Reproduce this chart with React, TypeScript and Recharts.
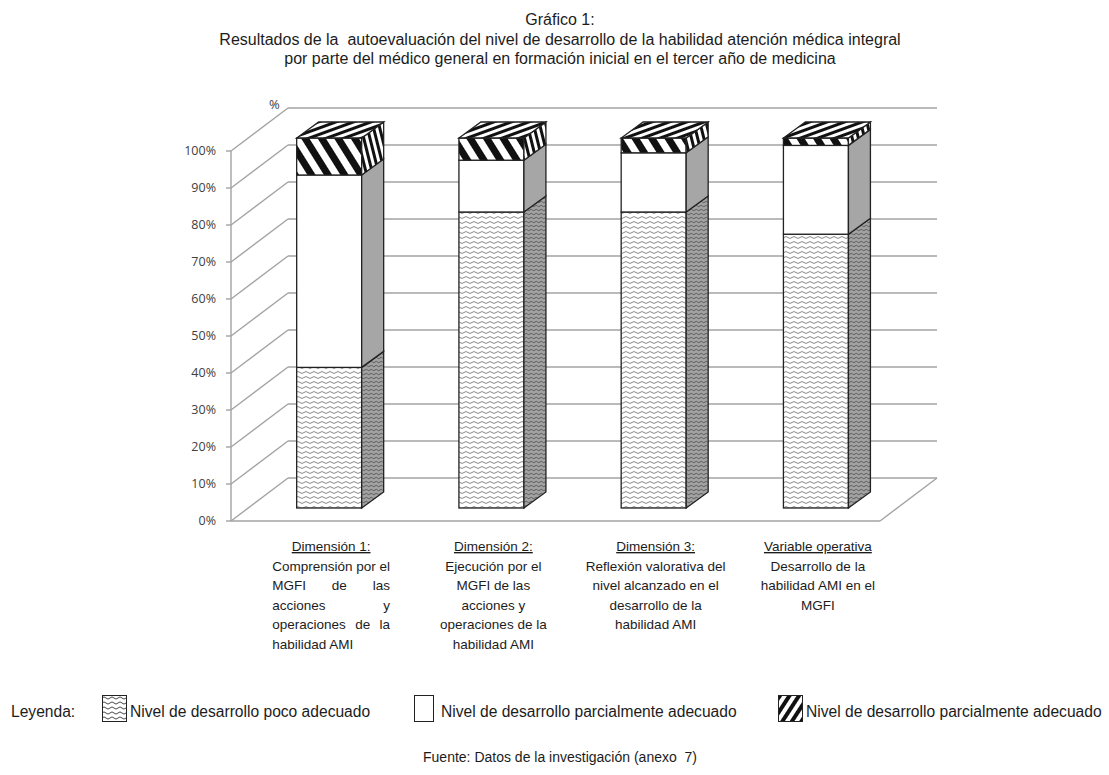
import React from 'react';
import { BarChart, Bar, XAxis, YAxis, CartesianGrid } from 'recharts';

// Categories and stacked percentages (bottom to top of each column)
const categories = ['Dimensión 1:', 'Dimensión 2:', 'Dimensión 3:', 'Variable operativa'];
const pocoAdecuado = [38, 80, 80, 74];
const parcialAdecuado = [52, 14, 16, 24];
const adecuado = [10, 6, 4, 2];
const yTicks = [0, 10, 20, 30, 40, 50, 60, 70, 80, 90, 100];

// Description lines under each category heading
const categoryLines = [
  ['Comprensión por el', 'MGFI de las', 'acciones y', 'operaciones de la', 'habilidad AMI'],
  ['Ejecución  por el', 'MGFI de las', 'acciones y', 'operaciones de la', 'habilidad AMI'],
  ['Reflexión valorativa del', 'nivel alcanzado en el', 'desarrollo de la', 'habilidad AMI'],
  ['Desarrollo de la', 'habilidad AMI en el', 'MGFI'],
];
const justifiedLabel = [true, false, false, false];

const legendLabels = [
  'Nivel de desarrollo poco adecuado',
  'Nivel de desarrollo parcialmente adecuado',
  'Nivel de desarrollo parcialmente adecuado',
];

const titleLines = [
  'Gráfico 1:',
  'Resultados de la  autoevaluación del nivel de desarrollo de la habilidad atención médica integral',
  'por parte del médico general en formación inicial en el tercer año de medicina',
];
const sourceText = 'Fuente: Datos de la investigación (anexo  7)';

const data = categories.map((name, i) => ({
  name,
  poco: pocoAdecuado[i],
  parcial: parcialAdecuado[i],
  adecuado: adecuado[i],
}));

const FONT = "'Liberation Sans', Arial, sans-serif";
const TICK_FONT = "'Open Sans', 'DejaVu Sans', sans-serif";
const GRID = '#a3a3a3';
const EDGE = '#222';
const LABEL_SIZE = 13.5;

// pseudo-3D offsets: back wall, bar front face and bar depth
const WALL = { dx: 57, dy: -43 };
const SHIFT = { dx: 17, dy: -13 };
const DEPTH = { dx: 22, dy: -16 };
const LABEL_DX = SHIFT.dx + 2;

const pts = (p: number[][]) => p.map(([a, b]) => `${a},${b}`).join(' ');

let measureCtx: CanvasRenderingContext2D | null = null;
const textWidth = (w: string) => {
  if (!measureCtx && typeof document !== 'undefined') {
    measureCtx = document.createElement('canvas').getContext('2d');
  }
  if (measureCtx) {
    measureCtx.font = `${LABEL_SIZE}px 'Liberation Sans', Arial, sans-serif`;
    return measureCtx.measureText(w).width;
  }
  return w.length * LABEL_SIZE * 0.55;
};

// word positions for a justified line of a given width
const justify = (line: string, left: number, width: number) => {
  const words = line.split(/\s+/).filter(Boolean);
  if (words.length < 2) return [{ word: line, x: left }];
  const widths = words.map(textWidth);
  const total = widths.reduce((a, b) => a + b, 0);
  const gap = (width - total) / (words.length - 1);
  let cur = left;
  return words.map((word, k) => {
    const out = { word, x: cur };
    cur += widths[k] + gap;
    return out;
  });
};

const makeBox = (front: string, side: string, top?: string) => (props: any) => {
  const { x, y, width, height } = props;
  if (!height || height <= 0) return <g />;
  const fx = x + SHIFT.dx;
  const fy = y + SHIFT.dy;
  const r = fx + width;
  const b = fy + height;
  return (
    <g>
      <rect x={fx} y={fy} width={width} height={height} fill={front} stroke={EDGE} strokeWidth={1.3} />
      <polygon
        points={pts([[r, fy], [r + DEPTH.dx, fy + DEPTH.dy], [r + DEPTH.dx, b + DEPTH.dy], [r, b]])}
        fill={side}
        stroke={EDGE}
        strokeWidth={1.3}
      />
      {top && (
        <polygon
          points={pts([[fx, fy], [r, fy], [r + DEPTH.dx, fy + DEPTH.dy], [fx + DEPTH.dx, fy + DEPTH.dy]])}
          fill={top}
          stroke={EDGE}
          strokeWidth={1.3}
        />
      )}
    </g>
  );
};

// each horizontal grid line: left-wall diagonal + back-wall line (+ floor edges at 0%)
const gridLine = (props: any) => {
  const { x1, y1, x2, y2 } = props;
  const bottom = props.y != null && props.height != null ? props.y + props.height : null;
  const isFloor = bottom != null && Math.abs(y1 - bottom) < 1;
  return (
    <g key={`g-${y1}`} stroke={GRID} strokeWidth={1.4} fill="none">
      <line x1={x1} y1={y1} x2={x1 + WALL.dx} y2={y1 + WALL.dy} />
      <line x1={x1 + WALL.dx} y1={y1 + WALL.dy} x2={x2 + WALL.dx} y2={y2 + WALL.dy} />
      {isFloor && (
        <>
          <line x1={x1} y1={y1} x2={x2} y2={y2} />
          <line x1={x2} y1={y2} x2={x2 + WALL.dx} y2={y2 + WALL.dy} />
        </>
      )}
    </g>
  );
};

const CategoryTick = (props: any) => {
  const { x, y, payload } = props;
  const i = payload.index != null ? payload.index : categories.indexOf(payload.value);
  const lines = categoryLines[i] || [];
  const cx = x + LABEL_DX;
  // justified block is as wide as its longest line
  const blockW = Math.max(...lines.map(textWidth));
  const left = cx - blockW / 2;
  const base = y + 22;
  const lh = 19.5;
  return (
    <g fontFamily={FONT} fontSize={LABEL_SIZE} fill="#1c1c1c">
      <text x={cx} y={base} textAnchor="middle" textDecoration="underline">
        {payload.value}
      </text>
      {lines.map((line, k) => {
        const ly = base + lh * (k + 1);
        if (justifiedLabel[i]) {
          if (k === lines.length - 1) {
            return (
              <text key={k} x={left} y={ly} textAnchor="start">
                {line}
              </text>
            );
          }
          return (
            <g key={k}>
              {justify(line, left, blockW).map((w, j) => (
                <text key={j} x={w.x} y={ly} textAnchor="start">
                  {w.word}
                </text>
              ))}
            </g>
          );
        }
        return (
          <text key={k} x={cx} y={ly} textAnchor="middle">
            {line}
          </text>
        );
      })}
    </g>
  );
};

const Patterns = () => (
  <svg width={0} height={0} style={{ position: 'absolute' }}>
    <defs>
      <pattern id="waveFront" width={8} height={5} patternUnits="userSpaceOnUse">
        <rect width={8} height={5} fill="#fff" />
        <path d="M0 2.5 Q2 0.6 4 2.5 T8 2.5" stroke="#8a8a8a" strokeWidth={1} fill="none" />
      </pattern>
      <pattern id="waveSide" width={5} height={4} patternUnits="userSpaceOnUse">
        <rect width={5} height={4} fill="#a2a2a2" />
        <path d="M0 2 Q1.25 0.6 2.5 2 T5 2" stroke="#555" strokeWidth={0.9} fill="none" />
      </pattern>
      <pattern id="waveIcon" width={8} height={5} patternUnits="userSpaceOnUse">
        <rect width={8} height={5} fill="#fff" />
        <path d="M0 3 Q2 0.8 4 3 T8 3" stroke="#333" strokeWidth={0.9} fill="none" />
      </pattern>
      <pattern id="hatchFront" width={14} height={14} patternUnits="userSpaceOnUse" patternTransform="rotate(-32)">
        <rect width={14} height={14} fill="#fff" />
        <rect width={7} height={14} fill="#111" />
      </pattern>
      <pattern id="hatchSide" width={6} height={6} patternUnits="userSpaceOnUse" patternTransform="rotate(-14)">
        <rect width={6} height={6} fill="#fff" />
        <rect width={3} height={6} fill="#111" />
      </pattern>
      <pattern id="hatchTop" width={6} height={6} patternUnits="userSpaceOnUse" patternTransform="rotate(70)">
        <rect width={6} height={6} fill="#fff" />
        <rect width={3} height={6} fill="#111" />
      </pattern>
      <pattern id="hatchIcon" width={8} height={8} patternUnits="userSpaceOnUse" patternTransform="rotate(33)">
        <rect width={8} height={8} fill="#fff" />
        <rect width={4} height={8} fill="#111" />
      </pattern>
    </defs>
  </svg>
);

const text = (extra: React.CSSProperties): React.CSSProperties => ({
  position: 'absolute',
  fontFamily: FONT,
  fontSize: 16,
  color: '#1c1c1c',
  whiteSpace: 'pre',
  lineHeight: '19.5px',
  ...extra,
});

const legendIcons = ['url(#waveIcon)', '#fff', 'url(#hatchIcon)'];
const legendIconX = [102, 414, 778];
const legendIconW = [25, 20, 25];
const legendTextX = [130, 441, 806];

export default function App() {
  return (
    <div style={{ position: 'absolute', left: 0, top: 0, width: 1109, height: 775, background: '#fff', overflow: 'hidden' }}>
      <Patterns />
      <div style={text({ left: 0, top: 10, width: 1120, textAlign: 'center' })}>
        {titleLines.map((t) => (
          <div key={t}>{t}</div>
        ))}
      </div>
      <div style={text({ left: 269, top: 95, fontFamily: TICK_FONT, fontSize: 13, color: '#404040' })}>%</div>

      <BarChart
        width={1109}
        height={775}
        data={data}
        margin={{ top: 151, right: 229, left: 171, bottom: 124 }}
        barCategoryGap="30%"
        style={{ position: 'absolute', left: 0, top: 0 }}
      >
        <CartesianGrid vertical={false} horizontal={gridLine} />
        <XAxis
          dataKey="name"
          axisLine={false}
          tickLine={false}
          interval={0}
          height={130}
          tick={<CategoryTick />}
        />
        <YAxis
          width={60}
          domain={[0, 100]}
          ticks={yTicks}
          interval={0}
          tickFormatter={(v: number) => `${v}%`}
          tickSize={5}
          tickMargin={10}
          axisLine={{ stroke: GRID, strokeWidth: 1.4 }}
          tickLine={{ stroke: GRID, strokeWidth: 1.4 }}
          tick={{ fill: '#404040', fontSize: 12.5, fontFamily: TICK_FONT }}
        />
        <Bar dataKey="poco" stackId="a" isAnimationActive={false} shape={makeBox('url(#waveFront)', 'url(#waveSide)')} />
        <Bar dataKey="parcial" stackId="a" isAnimationActive={false} shape={makeBox('#fff', '#a6a6a6')} />
        <Bar
          dataKey="adecuado"
          stackId="a"
          isAnimationActive={false}
          shape={makeBox('url(#hatchFront)', 'url(#hatchSide)', 'url(#hatchTop)')}
        />
      </BarChart>

      <div style={text({ left: 11, top: 702, fontSize: 15.6 })}>Leyenda:</div>
      {legendLabels.map((label, i) => (
        <React.Fragment key={i}>
          <svg
            width={legendIconW[i]}
            height={28}
            style={{ position: 'absolute', left: legendIconX[i], top: 695 }}
          >
            <rect
              x={0.5}
              y={0.5}
              width={legendIconW[i] - 1}
              height={26}
              fill={legendIcons[i]}
              stroke="#222"
              strokeWidth={1}
            />
          </svg>
          <div style={text({ left: legendTextX[i], top: 702, fontSize: 15.6 })}>{label}</div>
        </React.Fragment>
      ))}
      <div style={text({ left: 0, top: 748, width: 1120, textAlign: 'center', fontSize: 14 })}>{sourceText}</div>
    </div>
  );
}
